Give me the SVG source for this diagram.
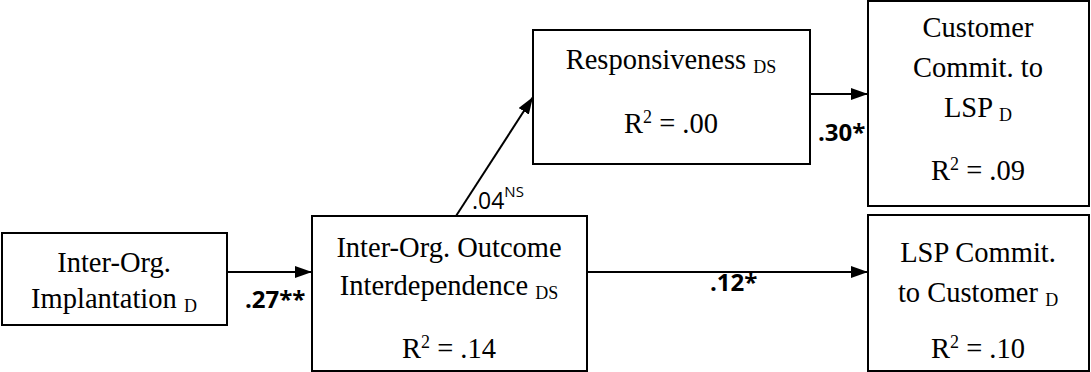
<svg xmlns="http://www.w3.org/2000/svg" width="1091" height="372" viewBox="0 0 1091 372">
<style>
.box{fill:#fff;stroke:#000;stroke-width:2}
.t{font-family:"Liberation Serif","Times New Roman",serif;font-size:28.5px;fill:#000;text-anchor:middle}
.sub{font-size:18px}
.lbl{font-family:"Open Sans","Liberation Sans",Arial,sans-serif;font-size:24px;font-weight:bold;fill:#000}
.lbn{font-family:"Open Sans","Liberation Sans",Arial,sans-serif;font-size:23px;fill:#000}
.edge{stroke:#000;stroke-width:2;fill:none;marker-end:url(#ah)}
</style>
<defs>
<marker id="ah" markerUnits="userSpaceOnUse" markerWidth="17" markerHeight="12" refX="17" refY="6" orient="auto">
<path d="M0,0 L17,6 L0,12 z" fill="#000"/>
</marker>
</defs>
<rect width="1091" height="372" fill="#fff"/>
<g id="connectors">
<line class="edge" x1="227" y1="272" x2="312" y2="272"/>
<line class="edge" x1="456" y1="216" x2="533" y2="97"/>
<line class="edge" x1="810" y1="94" x2="868" y2="94"/>
<line class="edge" x1="587" y1="272" x2="868" y2="272"/>
<text class="lbl" x="245" y="308">.27**</text>
<text class="lbn" x="472" y="209">.04<tspan font-size="15" dy="-12">NS</tspan></text>
<text class="lbl" x="818" y="141">.30*</text>
<text class="lbl" x="710" y="291">.12*</text>
</g>
<g id="implantation">
<rect class="box" x="2" y="233" width="225" height="92"/>
<text class="t" x="114" y="272">Inter-Org.</text>
<text class="t" x="114" y="308">Implantation <tspan class="sub" dy="4">D</tspan></text>
</g>
<g id="outcome">
<rect class="box" x="312" y="216" width="275" height="155"/>
<text class="t" x="449" y="257">Inter-Org. Outcome</text>
<text class="t" x="449" y="295">Interdependence <tspan class="sub" dy="4">DS</tspan></text>
<text class="t" x="449" y="358">R<tspan class="sub" dy="-10">2</tspan><tspan dy="10"> = .14</tspan></text>
</g>
<g id="responsiveness">
<rect class="box" x="533" y="30" width="277" height="134"/>
<text class="t" x="671" y="69">Responsiveness <tspan class="sub" dy="4">DS</tspan></text>
<text class="t" x="671" y="133">R<tspan class="sub" dy="-10">2</tspan><tspan dy="10"> = .00</tspan></text>
</g>
<g id="customer">
<rect class="box" x="868" y="1" width="221" height="205"/>
<text class="t" x="978" y="37">Customer</text>
<text class="t" x="978" y="77">Commit. to</text>
<text class="t" x="978" y="117">LSP <tspan class="sub" dy="4">D</tspan></text>
<text class="t" x="978" y="180">R<tspan class="sub" dy="-10">2</tspan><tspan dy="10"> = .09</tspan></text>
</g>
<g id="lsp">
<rect class="box" x="868" y="215" width="221" height="156"/>
<text class="t" x="978" y="262">LSP Commit.</text>
<text class="t" x="978" y="302">to Customer <tspan class="sub" dy="4">D</tspan></text>
<text class="t" x="978" y="358">R<tspan class="sub" dy="-10">2</tspan><tspan dy="10"> = .10</tspan></text>
</g>
</svg>
